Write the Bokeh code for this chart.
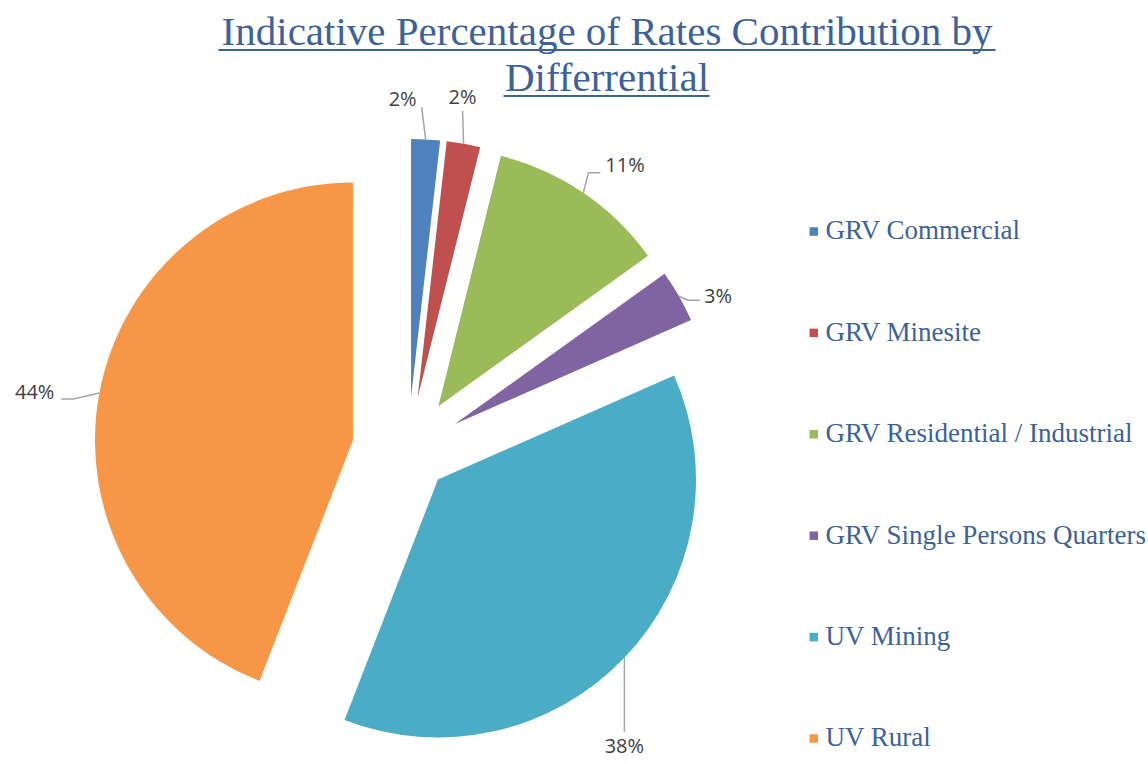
import math
from bokeh.plotting import figure
from bokeh.models import Range1d, ColumnDataSource
from bokeh.core.properties import value
from bokeh.embed import file_html
from bokeh.resources import INLINE

# ---------------- data ----------------
categories = ["GRV Commercial", "GRV Minesite", "GRV Residential / Industrial",
              "GRV Single Persons Quarters", "UV Mining", "UV Rural"]
shares = [1.8, 2.1, 11.2, 3.3, 37.5, 44.1]          # percent of rates
title_lines = ["Indicative Percentage of Rates Contribution by", "Differrential"]

# ---------------- style ----------------
colors = ["#4F81BD", "#C0504D", "#9BBB59", "#8064A2", "#4BACC6", "#F79646"]
W, H = 1148, 764
CX, CY = 407.5, H - 450.3        # pie centre (data units == pixels, y up)
R = 258                          # pie radius
explode = [54, 54, 54, 54, 41.5, 56]
# leader: elbow dx, elbow dy (screen, down +), tail dx, label align, label dx, label centre dy
leader = [(-4, -32, 0, "right", -5, -9),
          (-1, -33, 0, "center", 0, -14.5),
          (5, -20, 12, "left", 5, -8),
          (9, 4, 12, "left", 4, -5),
          (0, 74, 0, "center", 0, 13),
          (-26, 6, -12, "right", -7, -8)]
TITLE_COLOR = "#3D6199"
LABEL_COLOR = "#404040"
LEADER_COLOR = "#A6A6A6"
SHIFT = 0.35                      # baseline correction, in em

p = figure(width=W, height=H, x_range=Range1d(0, W), y_range=Range1d(0, H),
           x_axis_type=None, y_axis_type=None, min_border=0,
           toolbar_location=None, output_backend="svg")
p.grid.visible = False
p.outline_line_color = None
p.background_fill_color = "white"
p.border_fill_color = "white"

total = sum(shares)
xs, ys, starts, ends, mids = [], [], [], [], []
acc = 0.0
for v, e in zip(shares, explode):
    t1 = acc / total * 360.0            # clockwise from 12 o'clock
    acc += v
    t2 = acc / total * 360.0
    tm = (t1 + t2) / 2.0
    mids.append(tm)
    xs.append(CX + e * math.sin(math.radians(tm)))
    ys.append(CY + e * math.cos(math.radians(tm)))
    starts.append(90.0 - t2)
    ends.append(90.0 - t1)

src = ColumnDataSource(dict(x=xs, y=ys, start=starts, end=ends, color=colors, cat=categories))
p.wedge(x="x", y="y", radius=R, start_angle="start", end_angle="end",
        start_angle_units="deg", end_angle_units="deg", direction="anticlock",
        fill_color="color", line_color=None, source=src)

# data labels with leader lines
lab_x, lab_y, lab_t, lab_a = [], [], [], []
for i, v in enumerate(shares):
    tm = math.radians(mids[i])
    ax = xs[i] + R * math.sin(tm)
    ay = ys[i] + R * math.cos(tm)
    edx, edy, tdx, align, ldx, ldy = leader[i]
    ex, ey = ax + edx, ay - edy
    fx, fy = ex + tdx, ey
    p.line([ax, ex, fx], [ay, ey, fy], line_color=LEADER_COLOR, line_width=1.5)
    lab_x.append(fx + ldx)
    lab_y.append(fy - ldy - 7.2 + SHIFT * 20)
    lab_t.append("%d%%" % int(v / total * 100 + 0.5))
    lab_a.append(align)

p.text(x=lab_x, y=lab_y, text=lab_t, text_align=lab_a, text_baseline="alphabetic",
       text_font=value("Open Sans"), text_font_size="20px", text_color=LABEL_COLOR)

# legend
leg_y = [H - (231 + 101.4 * i) for i in range(len(categories))]
p.rect(x=[813.3] * len(categories), y=leg_y, width=8.5, height=8.5,
       fill_color=colors, line_color=None)
p.text(x=[825] * len(categories), y=[y - 8.3 + SHIFT * 27 for y in leg_y], text=categories,
       text_align="left", text_baseline="alphabetic",
       text_font=value("Liberation Serif"), text_font_size="27px", text_color=TITLE_COLOR)

# title
p.text(x=[606.5, 606.5], y=[H - 45 + SHIFT * 41, H - 91 + SHIFT * 41], text=title_lines,
       text_align="center", text_baseline="alphabetic", text_font=value("Liberation Serif"),
       text_font_size="41px", text_color=TITLE_COLOR)
p.segment(x0=[218, 503], y0=[H - 49.5, H - 95.5], x1=[995, 709], y1=[H - 49.5, H - 95.5],
          line_color=TITLE_COLOR, line_width=2)

open("out.html", "w").write(file_html(p, INLINE))
